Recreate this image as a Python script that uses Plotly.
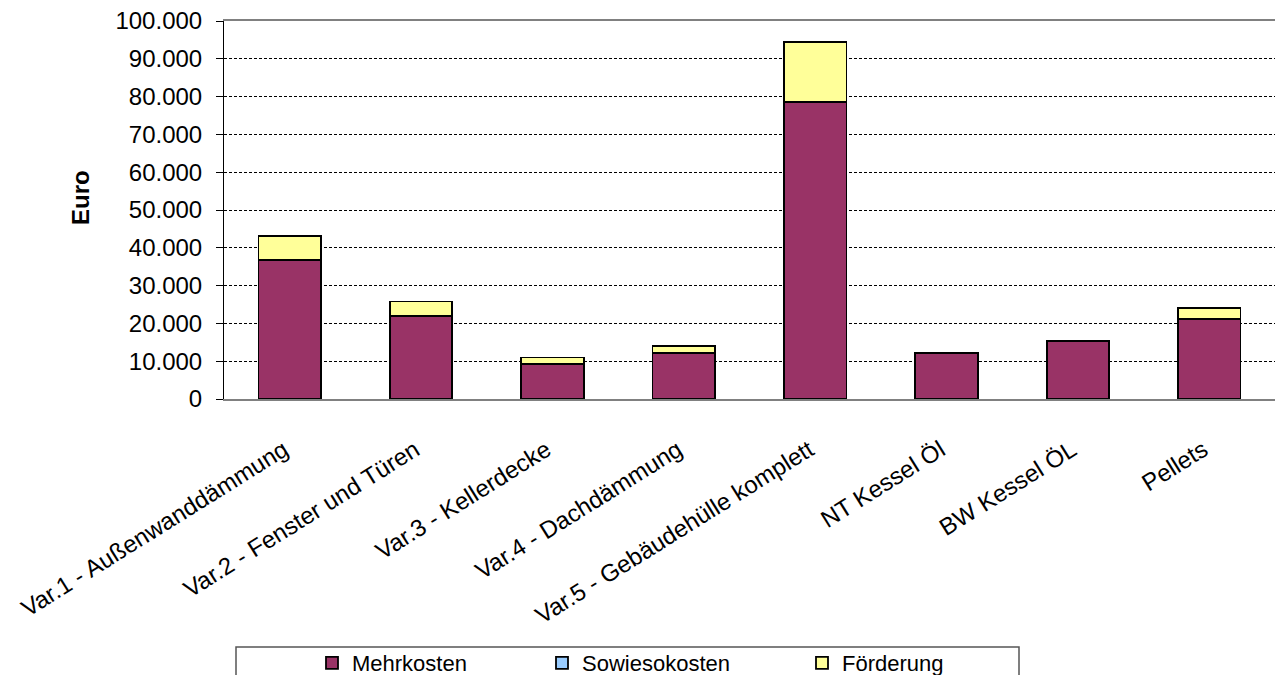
import plotly.graph_objects as go

# Kategorien und Werte (Euro)
kategorien = [
    "Var.1 - Außenwanddämmung",
    "Var.2 - Fenster und Türen",
    "Var.3 - Kellerdecke",
    "Var.4 - Dachdämmung",
    "Var.5 - Gebäudehülle komplett",
    "NT Kessel Öl",
    "BW Kessel ÖL",
    "Pellets",
]
mehrkosten = [36800, 21900, 9200, 12100, 78500, 12100, 15400, 21200]
sowiesokosten = [0, 0, 0, 0, 0, 0, 0, 0]
foerderung = [6400, 3900, 1800, 1900, 16000, 0, 0, 2800]

y_ticks = list(range(0, 100001, 10000))

W, H = 1275, 675
L, R, T, B = 224, 0, 21, 276
plot_w = W - L - R
plot_h = H - T - B


def px_x(x):
    return (x - L) / plot_w


def px_y(y):
    return (H - B - y) / plot_h


FONT = "Liberation Sans, Arial, sans-serif"
outline = dict(color="black", width=1.8)

fig = go.Figure()
fig.add_trace(go.Bar(name="Mehrkosten", x=kategorien, y=mehrkosten,
                     marker=dict(color="#993366", line=outline), legend="legend"))
fig.add_trace(go.Bar(name="Sowiesokosten", x=kategorien, y=sowiesokosten,
                     marker=dict(color="#99CCFF", line=outline), legend="legend2"))
fig.add_trace(go.Bar(name="Förderung", x=kategorien, y=foerderung,
                     marker=dict(color="#FFFF99", line=outline), legend="legend3"))

legend_common = dict(
    orientation="h", yanchor="middle", xanchor="left",
    bgcolor="rgba(0,0,0,0)", borderwidth=0,
    font=dict(family=FONT, size=22, color="black"),
)

fig.update_layout(
    width=W, height=H,
    margin=dict(l=L, r=R, t=T, b=B, pad=0, autoexpand=False),
    paper_bgcolor="white", plot_bgcolor="white",
    barmode="stack", bargap=0.524,
    separators=",.",
    showlegend=True,
    font=dict(family=FONT, color="black"),
    legend=dict(x=px_x(312), y=px_y(663), **legend_common),
    legend2=dict(x=px_x(542), y=px_y(663), **legend_common),
    legend3=dict(x=px_x(802), y=px_y(663), **legend_common),
    xaxis=dict(
        type="category", showline=True, linecolor="#808080", linewidth=1.5,
        mirror=True, ticks="", tickangle=-32, showgrid=False, automargin=False,
        tickfont=dict(family=FONT, size=24, color="black"),
        ticklabelstandoff=26, ticklabelshift=-6,
    ),
    yaxis=dict(
        range=[0, 100000], tickvals=y_ticks, tickformat=",.0f",
        showline=True, linecolor="black", linewidth=1, automargin=False,
        ticks="outside", ticklen=7, tickcolor="black", tickwidth=1,
        showgrid=True, gridcolor="black", gridwidth=1, griddash="3px,2px",
        zeroline=False,
        tickfont=dict(family=FONT, size=24, color="black"),
        ticklabelstandoff=9,
    ),
    annotations=[
        dict(text="<b>Euro</b>", x=px_x(80), y=px_y(198), xref="paper", yref="paper",
             showarrow=False, textangle=-90, font=dict(family=FONT, size=24, color="black"),
             xanchor="center", yanchor="middle"),
    ],
    shapes=[
        dict(type="rect", xref="paper", yref="paper",
             x0=px_x(236), x1=px_x(1019), y0=px_y(647), y1=px_y(690),
             line=dict(color="#555555", width=1.5), fillcolor="rgba(0,0,0,0)"),
    ],
)

fig.write_html("out.html")
